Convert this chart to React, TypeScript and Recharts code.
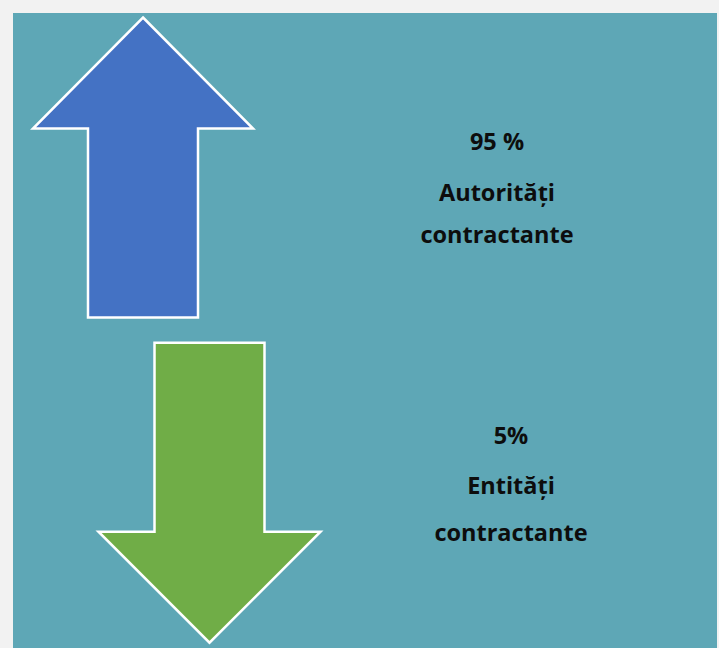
import { BarChart, Bar, XAxis, YAxis, LabelList } from 'recharts'

const categories = ['Autorități contractante', 'Entități contractante']
const shares = [95, 5]
const shareLabels = ['95 %', '5%']
const directions = ['up', 'down']

const data = categories.map((name, i) => ({
  name,
  share: shares[i],
  label: shareLabels[i],
  direction: directions[i],
}))

// arrow look per direction (page coordinates for horizontal centre)
const ARROW: Record<string, any> = {
  up: { fill: '#4472C4', cx: 143, textX: 497, lineDy: [-17.5, 33, 75] },
  down: { fill: '#70AD47', cx: 209.5, textX: 511, lineDy: [-49, 1, 48.5] },
}
const HEAD_LEN = 111
const HEAD_HALF = 110
const SHAFT_HALF = 55

const ArrowShape = (props: any) => {
  const { y, height, payload } = props
  const st = ARROW[payload.direction]
  const cx = st.cx
  const top = y
  const bottom = y + height
  let pts: number[][]
  if (payload.direction === 'up') {
    const hb = top + HEAD_LEN
    pts = [
      [cx, top],
      [cx + HEAD_HALF, hb],
      [cx + SHAFT_HALF, hb],
      [cx + SHAFT_HALF, bottom],
      [cx - SHAFT_HALF, bottom],
      [cx - SHAFT_HALF, hb],
      [cx - HEAD_HALF, hb],
    ]
  } else {
    const hb = bottom - HEAD_LEN
    pts = [
      [cx - SHAFT_HALF, top],
      [cx + SHAFT_HALF, top],
      [cx + SHAFT_HALF, hb],
      [cx + HEAD_HALF + 1, hb],
      [cx, bottom],
      [cx - HEAD_HALF - 1, hb],
      [cx - SHAFT_HALF, hb],
    ]
  }
  return (
    <polygon
      points={pts.map((p) => p.join(',')).join(' ')}
      fill={st.fill}
      stroke="#ffffff"
      strokeWidth={2.5}
      strokeLinejoin="miter"
    />
  )
}

const BlockLabel = (props: any) => {
  const { y, height, index } = props
  const item = data[index]
  const st = ARROW[item.direction]
  const cy = y + height / 2
  const lines = [item.label, ...item.name.split(' ')]
  return (
    <g>
      {lines.map((t, i) => (
        <text
          key={i}
          x={st.textX}
          y={cy + st.lineDy[i]}
          textAnchor="middle"
          fontFamily="'Open Sans', 'Noto Sans', sans-serif"
          fontWeight={700}
          fontSize={23.5}
          fill="#0d0d0d"
        >
          {t}
        </text>
      ))}
    </g>
  )
}

export default function App() {
  return (
    <div
      style={{
        position: 'absolute',
        left: 0,
        top: 0,
        width: 719,
        height: 648,
        overflow: 'hidden',
        background: '#f2f2f2',
      }}
    >
      <div
        style={{
          position: 'absolute',
          left: 13,
          top: 13,
          width: 704,
          height: 640,
          background: '#5EA7B6',
        }}
      />
      <div style={{ position: 'absolute', left: 0, top: 0 }}>
        <BarChart
          width={719}
          height={655}
          data={data}
          layout="vertical"
          margin={{ top: 4.5, right: 0, bottom: 0, left: 0 }}
          barSize={300}
        >
          <XAxis type="number" domain={[0, 100]} hide />
          <YAxis type="category" dataKey="name" hide />
          <Bar dataKey="share" shape={<ArrowShape />} isAnimationActive={false}>
            <LabelList dataKey="label" content={<BlockLabel />} />
          </Bar>
        </BarChart>
      </div>
    </div>
  )
}
